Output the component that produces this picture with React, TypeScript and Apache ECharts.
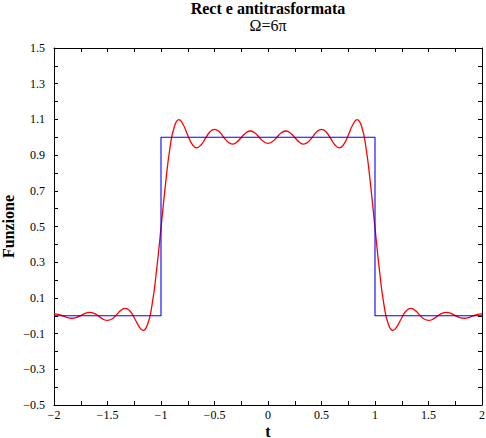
import React, { useEffect, useRef } from 'react';
import * as echarts from 'echarts';

// rect(t): 1 tra -1 e 1, 0 altrove
const rectT = [-2, -1, -1, 1, 1, 2];
const rectV = [0, 0, 1, 1, 0, 0];

// antitrasformata troncata (Omega = 6 pi)
const curveT = [
  -2, -1.958, -1.917, -1.875, -1.833, -1.792, -1.75, -1.708, -1.667, -1.625, -1.583, -1.542,
  -1.5, -1.458, -1.417, -1.375, -1.333, -1.292, -1.25, -1.208, -1.167, -1.125, -1.083, -1.042,
  -1, -0.958, -0.917, -0.875, -0.833, -0.792, -0.75, -0.708, -0.667, -0.625, -0.583, -0.542,
  -0.5, -0.458, -0.417, -0.375, -0.333, -0.292, -0.25, -0.208, -0.167, -0.125, -0.083, -0.042,
  0,
  0.042, 0.083, 0.125, 0.167, 0.208, 0.25, 0.292, 0.333, 0.375, 0.417, 0.458, 0.5,
  0.542, 0.583, 0.625, 0.667, 0.708, 0.75, 0.792, 0.833, 0.875, 0.917, 0.958, 1,
  1.042, 1.083, 1.125, 1.167, 1.208, 1.25, 1.292, 1.333, 1.375, 1.417, 1.458, 1.5,
  1.542, 1.583, 1.625, 1.667, 1.708, 1.75, 1.792, 1.833, 1.875, 1.917, 1.958, 2,
];
const curveV = [
  0.011, 0.008, -0.001, -0.010, -0.014, -0.010, 0.001, 0.013, 0.019, 0.013, -0.002, -0.019,
  -0.026, -0.018, 0.005, 0.030, 0.041, 0.028, -0.011, -0.058, -0.082, -0.048, 0.064, 0.252,
  0.492, 0.736, 0.937, 1.060, 1.099, 1.070, 1.011, 0.960, 0.941, 0.958, 0.996, 1.031,
  1.044, 1.032, 1.002, 0.974, 0.962, 0.973, 0.999, 1.024, 1.035, 1.025, 1.000, 0.976,
  0.966,
  0.976, 1.000, 1.025, 1.035, 1.024, 0.999, 0.973, 0.962, 0.974, 1.002, 1.032, 1.044,
  1.031, 0.996, 0.958, 0.941, 0.960, 1.011, 1.070, 1.099, 1.060, 0.937, 0.736, 0.492,
  0.252, 0.064, -0.048, -0.082, -0.058, -0.011, 0.028, 0.041, 0.030, 0.005, -0.018, -0.026,
  -0.019, -0.002, 0.013, 0.019, 0.013, 0.001, -0.010, -0.014, -0.010, -0.001, 0.008, 0.011,
];

const titleText = 'Rect e antitrasformata';
const subText = 'Ω=6π';
const xName = 't';
const yName = 'Funzione';

const serif = "'Liberation Serif', 'DejaVu Serif', serif";

const fmt = (v: number, step: number) => {
  const k = Math.round(v / step);
  if (Math.abs(k * step - v) > 1e-6) return '';
  const r = Math.round(v * 100) / 100;
  if (r === 0) return '0';
  return (r < 0 ? '\u2212' : '') + String(Math.abs(r));
};

const fmtY = (v: number) => {
  const k = Math.round(v * 10);
  if (Math.abs(k) % 2 !== 1) return '';
  const r = k / 10;
  return (r < 0 ? '\u2212' : '') + Math.abs(r).toFixed(1);
};

const axisCommon = {
  axisLine: { onZero: false, lineStyle: { color: '#000', width: 1 } },
  axisTick: { inside: true, length: 4, lineStyle: { color: '#000', width: 1 } },
  splitLine: { show: false },
};

const App: React.FC = () => {
  const chartRef = useRef<HTMLDivElement>(null);

  useEffect(() => {
    if (!chartRef.current) return;
    const chart = echarts.init(chartRef.current, null, { renderer: 'svg' });

    const option: any = {
      animation: false,
      backgroundColor: '#fff',
      title: [
        {
          text: titleText,
          left: 268,
          top: 0,
          textAlign: 'center',
          padding: 0,
          textStyle: { fontFamily: serif, fontSize: 16, fontWeight: 'bold', color: '#000' },
        },
        {
          text: subText,
          left: 268,
          top: 17,
          textAlign: 'center',
          padding: 0,
          textStyle: { fontFamily: serif, fontSize: 16, fontWeight: 'normal', color: '#000' },
        },
      ],
      grid: { left: 54, right: 4, top: 48, bottom: 33, outerBoundsMode: 'none', containLabel: false },
      xAxis: [
        {
          ...axisCommon,
          type: 'value',
          position: 'bottom',
          min: -2,
          max: 2,
          interval: 0.25,
          name: xName,
          nameLocation: 'middle',
          nameGap: 18,
          nameMoveOverlap: false,
          nameTextStyle: { fontFamily: serif, fontSize: 16, fontWeight: 'bold', color: '#000' },
          axisLabel: {
            fontFamily: serif,
            fontSize: 12,
            lineHeight: 13,
            color: '#000',
            margin: 3,
            formatter: (v: number) => fmt(v, 0.5),
          },
        },
        {
          ...axisCommon,
          type: 'value',
          position: 'top',
          min: -2,
          max: 2,
          interval: 0.25,
          axisLabel: { show: false },
        },
      ],
      yAxis: [
        {
          ...axisCommon,
          type: 'value',
          position: 'left',
          min: -0.5,
          max: 1.5,
          interval: 0.1,
          name: yName,
          nameLocation: 'middle',
          nameGap: 38,
          nameMoveOverlap: false,
          nameTextStyle: { fontFamily: serif, fontSize: 16, fontWeight: 'bold', color: '#000' },
          axisLabel: {
            fontFamily: serif,
            fontSize: 12,
            color: '#000',
            margin: 9,
            formatter: fmtY,
          },
        },
        {
          ...axisCommon,
          type: 'value',
          position: 'right',
          min: -0.5,
          max: 1.5,
          interval: 0.1,
          axisLabel: { show: false },
        },
      ],
      series: [
        {
          name: 'antitrasformata',
          type: 'line',
          data: curveT.map((t, i) => [t, curveV[i]]),
          smooth: true,
          showSymbol: false,
          symbol: 'none',
          lineStyle: { color: '#ff0000', width: 1.3 },
          z: 2,
        },
        {
          name: 'rect',
          type: 'line',
          data: rectT.map((t, i) => [t, rectV[i]]),
          showSymbol: false,
          symbol: 'none',
          lineStyle: { color: '#0000ff', width: 1.1 },
          z: 3,
        },
      ],
    };

    chart.setOption(option);

    return () => {
      chart.dispose();
    };
  }, []);

  return (
    <div
      ref={chartRef}
      style={{ position: 'absolute', left: 0, top: 0, width: 486, height: 438 }}
    />
  );
};

export default App;
